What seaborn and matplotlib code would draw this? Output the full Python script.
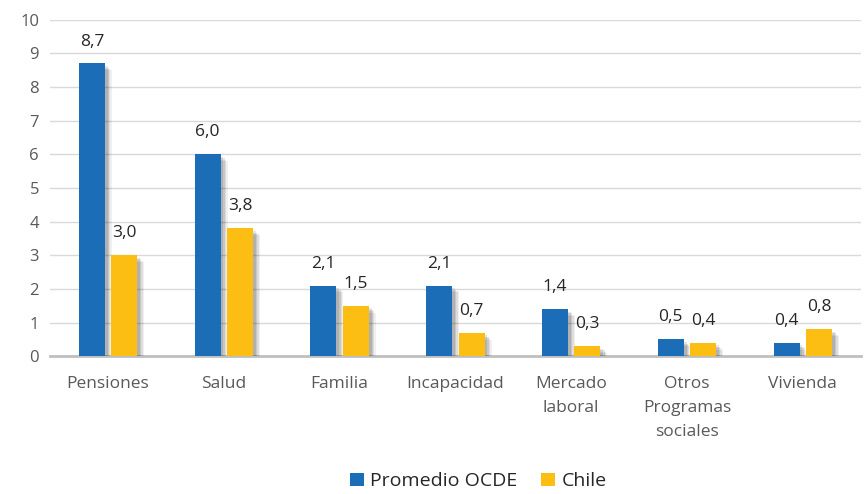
import matplotlib
matplotlib.use("Agg")
import matplotlib.pyplot as plt
import matplotlib.patheffects as pe
from matplotlib.patches import Patch
import seaborn as sns
import pandas as pd

categorias = ["Pensiones", "Salud", "Familia", "Incapacidad", "Mercado\nlaboral",
              "Otros\nProgramas\nsociales", "Vivienda"]
ocde = [8.7, 6.0, 2.1, 2.1, 1.4, 0.5, 0.4]
chile = [3.0, 3.8, 1.5, 0.7, 0.3, 0.4, 0.8]
series = ["Promedio OCDE", "Chile"]
colores = ["#1C6DB7", "#FDBE14"]

df = pd.DataFrame({
    "categoria": categorias * 2,
    "valor": ocde + chile,
    "serie": [series[0]] * len(categorias) + [series[1]] * len(categorias),
})

sns.set_theme(style="white")
plt.rcParams["font.family"] = ["Open Sans", "DejaVu Sans"]

fig = plt.figure(figsize=(8.65, 4.94), dpi=100)
ax = fig.add_axes([0.058, 0.279, 0.937, 0.681])

sns.barplot(data=df, x="categoria", y="valor", hue="serie", palette=colores,
            saturation=1, width=0.56, gap=0.2, ax=ax, legend=False, zorder=3,
            linewidth=0, edgecolor="none")

# soft drop shadow built from a few offset layers
sombra = [
    pe.SimplePatchShadow(offset=(5, -5), shadow_rgbFace="#000000", alpha=0.06),
    pe.SimplePatchShadow(offset=(4, -4), shadow_rgbFace="#000000", alpha=0.08),
    pe.SimplePatchShadow(offset=(3, -3), shadow_rgbFace="#000000", alpha=0.10),
    pe.SimplePatchShadow(offset=(2, -2), shadow_rgbFace="#000000", alpha=0.10),
    pe.Normal(),
]
for p in ax.patches:
    p.set_path_effects(sombra)

for cont in ax.containers:
    etiquetas = [f"{v:.1f}".replace(".", ",") for v in cont.datavalues]
    ax.bar_label(cont, labels=etiquetas, padding=10, fontsize=12.5, color="#262626")

ax.set_ylim(0, 10)
ax.set_xlim(-0.5, len(categorias) - 0.5)
ax.set_yticks(range(0, 11))
ax.yaxis.grid(True, color="#D9D9D9", linewidth=1, zorder=0)
ax.set_axisbelow(True)
for s in ["left", "right", "top"]:
    ax.spines[s].set_visible(False)
ax.spines["bottom"].set_color("#BFBFBF")
ax.spines["bottom"].set_linewidth(2)
ax.tick_params(axis="y", length=0, labelsize=12, colors="#595959", pad=8)
ax.tick_params(axis="x", length=0, labelsize=12.5, colors="#595959", pad=14)
for t in ax.get_xticklabels():
    t.set_linespacing(1.7)
    t.set_verticalalignment("top")
ax.set_xlabel("")
ax.set_ylabel("")

manijas = [Patch(facecolor=c, edgecolor="none") for c in colores]
fig.legend(manijas, series, loc="lower center", bbox_to_anchor=(0.553, -0.028), ncol=2,
           frameon=False, fontsize=14, handlelength=0.7, handleheight=0.7,
           handletextpad=0.35, columnspacing=1.2, labelcolor="#262626")

fig.savefig("out.png", dpi=100)
